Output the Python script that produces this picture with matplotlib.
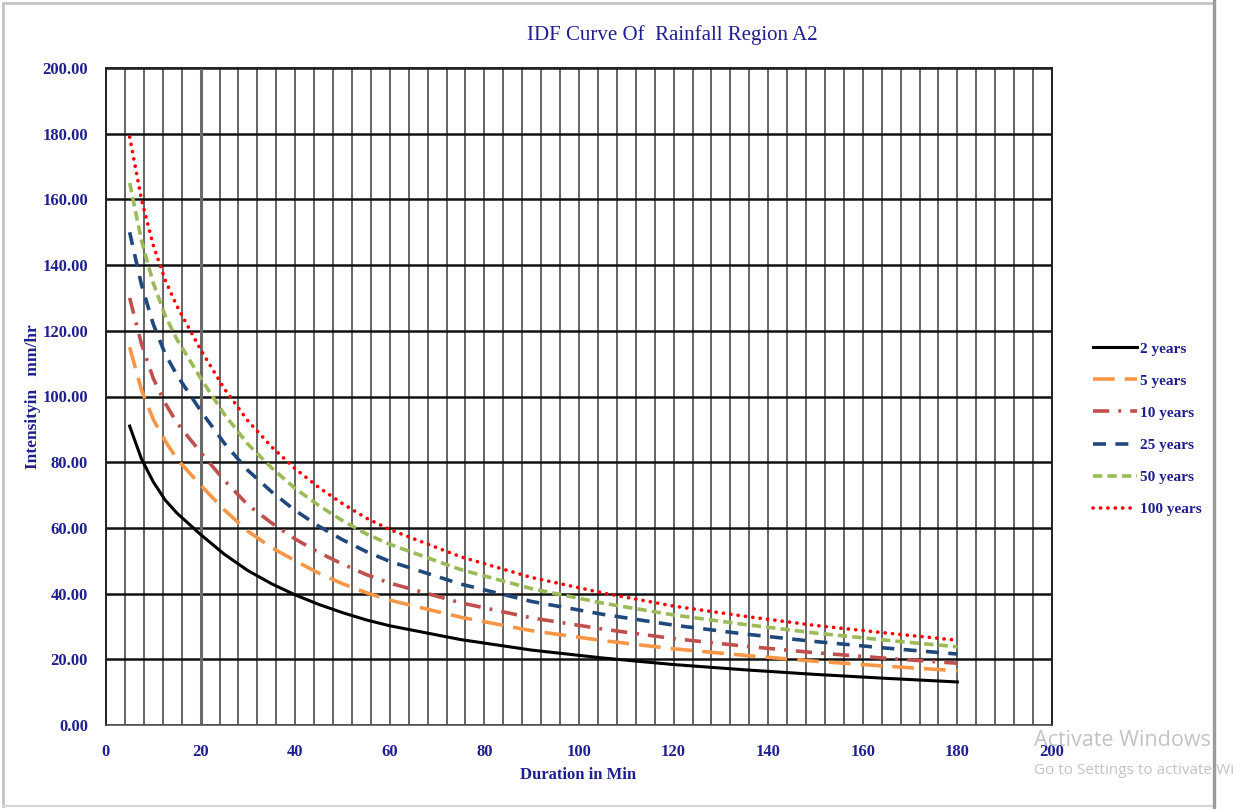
import matplotlib
matplotlib.use("Agg")
import matplotlib.pyplot as plt
from matplotlib.lines import Line2D
from matplotlib.ticker import MultipleLocator

# Rainfall intensity (mm/hr) by storm duration (min) for each return period
durations = [5, 7.5, 10, 12.5, 15, 20, 25, 30, 35, 40, 45, 50, 55, 60, 75, 90, 105, 120, 135, 150, 165, 180]
i_2yr = [91.0, 81.0, 74.0, 68.5, 64.5, 58.0, 52.0, 47.0, 43.0, 39.6, 36.7, 34.2, 32.0, 30.2, 26.0, 22.8, 20.4, 18.4, 16.8, 15.4, 14.2, 13.1]
i_5yr = [115.0, 102.0, 93.0, 86.5, 81.0, 73.0, 65.5, 59.0, 54.0, 50.0, 46.2, 43.0, 40.3, 38.0, 32.8, 28.7, 25.7, 23.2, 21.2, 19.4, 17.9, 16.5]
i_10yr = [130.0, 116.0, 105.5, 98.0, 92.0, 83.0, 74.5, 67.0, 61.5, 56.6, 52.5, 49.0, 45.8, 43.2, 37.2, 32.6, 29.2, 26.3, 24.0, 22.0, 20.3, 18.8]
i_25yr = [150.0, 134.0, 122.0, 113.0, 106.5, 95.7, 85.8, 77.5, 71.0, 65.3, 60.5, 56.4, 52.8, 49.8, 42.9, 37.6, 33.7, 30.4, 27.7, 25.4, 23.4, 21.6]
i_50yr = [165.0, 147.5, 134.5, 124.7, 117.4, 105.6, 94.6, 85.5, 78.3, 72.0, 66.8, 62.2, 58.2, 55.0, 47.3, 41.5, 37.1, 33.5, 30.6, 28.0, 25.8, 23.8]
i_100yr = [179.0, 160.0, 146.0, 135.5, 127.5, 114.3, 102.4, 92.6, 84.7, 78.0, 72.3, 67.4, 63.0, 59.5, 51.2, 44.9, 40.2, 36.2, 33.1, 30.3, 28.0, 25.8]

labels = ["2 years", "5 years", "10 years", "25 years", "50 years", "100 years"]
series = [i_2yr, i_5yr, i_10yr, i_25yr, i_50yr, i_100yr]

styles = [
    dict(color="#000000", lw=2.2, ls="-"),
    dict(color="#F79646", lw=2.6, ls=(0, (6, 2.8))),
    dict(color="#C0504D", lw=2.6, ls=(0, (4.5, 2.5, 0.8, 2.5))),
    dict(color="#1F497D", lw=2.6, ls=(0, (3.6, 2.6))),
    dict(color="#9BBB59", lw=2.6, ls=(0, (2.6, 1.4))),
    dict(color="#FF0000", lw=2.6, ls=(0, (0.05, 2.0)), dash_capstyle="round"),
]

navy = "#1f1f8f"
serif = ["Liberation Serif", "DejaVu Serif"]

W, H = 1233, 809
fig = plt.figure(figsize=(W / 100, H / 100), dpi=100)
fig.patch.set_facecolor("white")
ax = fig.add_axes([106 / W, 1 - 725 / H, (1052 - 106) / W, (725 - 68) / H])

ax.set_xlim(0, 200)
ax.set_ylim(0, 200)

# Grid: fine vertical lines, heavier horizontal lines
ax.xaxis.set_major_locator(MultipleLocator(20))
ax.xaxis.set_minor_locator(MultipleLocator(4))
ax.yaxis.set_major_locator(MultipleLocator(20))
ax.grid(which="minor", axis="x", color="#3c3c3c", lw=1.1)
ax.grid(which="major", axis="x", color="#3c3c3c", lw=1.1)
ax.grid(which="major", axis="y", color="#111111", lw=1.8)
ax.axvline(20, color="#6a6a6a", lw=2.2, zorder=0.9)
ax.set_axisbelow(True)
for side in ["left", "right", "top"]:
    ax.spines[side].set_color("#222222")
    ax.spines[side].set_linewidth(1.4)
ax.spines["bottom"].set_color("#555555")
ax.spines["bottom"].set_linewidth(1.2)

ax.tick_params(which="both", length=0)
ax.tick_params(axis="y", pad=13)
ax.tick_params(axis="x", pad=14)
ax.yaxis.set_major_formatter(lambda v, p: f"{v:.2f}")
ax.xaxis.set_major_formatter(lambda v, p: f"{v:.0f}")
for t in ax.get_xticklabels() + ax.get_yticklabels():
    t.set_fontfamily(serif)
    t.set_fontweight("bold")
    t.set_fontsize(12)
    t.set_color(navy)

for vals, lab, st in zip(series, labels, styles):
    ax.plot(durations, vals, label=lab, **st)

leg = ax.legend(loc="center left", bbox_to_anchor=(1087 / W, 1 - 429 / H),
                bbox_transform=fig.transFigure, frameon=False,
                prop=dict(family=serif, weight="bold", size=11),
                handlelength=2.9, handletextpad=0.2, labelspacing=1.2,
                borderaxespad=0)
for t in leg.get_texts():
    t.set_color(navy)

fig.text(672 / W, 1 - 35 / H, "IDF Curve Of  Rainfall Region A2", ha="center", va="center",
         family=serif, fontsize=15, color=navy)
fig.text(578 / W, 1 - 775 / H, "Duration in Min", ha="center", va="center",
         family=serif, fontsize=12, weight="bold", color=navy)
fig.text(33 / W, 1 - 397 / H, "Intensityin   mm/hr", ha="center", va="center", rotation=90,
         family=serif, fontsize=12.5, weight="bold", color=navy)

# Page frame around the chart
px = fig.transFigure.inverted()
def fline(x0, y0, x1, y1, color, lw):
    (a, b) = px.transform((x0, H - y0))
    (c, d) = px.transform((x1, H - y1))
    fig.add_artist(Line2D([a, c], [b, d], color=color, lw=lw, transform=fig.transFigure))

fline(3, 3, 1214, 3, "#c4c4c4", 2.0)
fline(3, 3, 3, 806, "#c4c4c4", 2.0)
fline(3, 806, 1214, 806, "#d6d6d6", 1.6)
fline(1214, 0, 1214, H, "#9a9a9a", 2.4)

# System watermark text
fig.text(1034 / W, 1 - 741 / H, "Activate Windows", ha="left", va="center",
         family=["Open Sans", "DejaVu Sans"], fontsize=15.5, color="#c3c3c3")
fig.text(1034 / W, 1 - 771 / H, "Go to Settings to activate Windows.", ha="left", va="center",
         family=["Open Sans", "DejaVu Sans"], fontsize=11, color="#c3c3c3")

fig.savefig("out.png", dpi=100, facecolor="white")
